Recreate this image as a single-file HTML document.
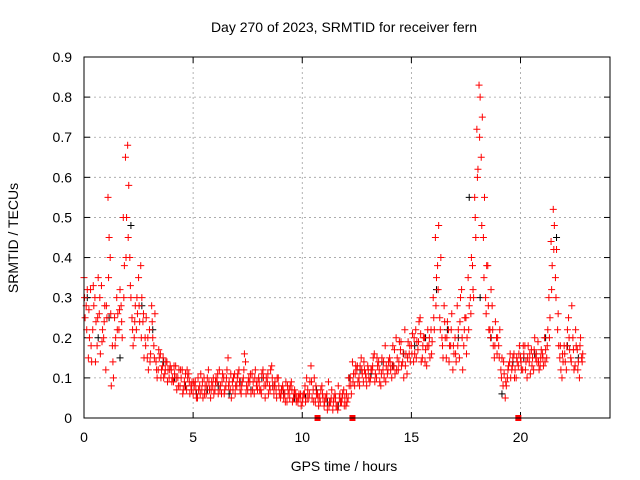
<!DOCTYPE html>
<html><head><meta charset="utf-8"><style>
body{margin:0;background:#fff;}
svg{display:block;font-family:"Liberation Sans",sans-serif;}
</style></head><body>
<svg id="chart" width="640" height="480" viewBox="0 0 640 480">
<rect width="640" height="480" fill="#fff"/>
<text x="344" y="32" font-size="14" text-anchor="middle">Day 270 of 2023, SRMTID for receiver fern</text>
<g id="grid"></g>
<g id="ticks"></g>
<g id="black"></g>
<g id="red"></g>
<rect x="84" y="57" width="526" height="361" fill="none" stroke="#000" stroke-width="1"/>
<text x="344" y="471" font-size="14" text-anchor="middle">GPS time / hours</text>
<text transform="translate(18,238) rotate(-90)" font-size="14" text-anchor="middle">SRMTID / TECUs</text>
</svg>
<script>
const xTicks=[0,5,10,15,20];
const yTicks=[0,0.1,0.2,0.3,0.4,0.5,0.6,0.7,0.8,0.9];
const red1=[.35,.28,.15,.32,.22,.30,.18,.26,.33,.20,
.12,.55,.40,.18,.25,.30,.22,.28,.50,.65,
.68,.40,.25,.20,.22,.35,.38,.24,.20,.15,
.22,.28,.18,.14,.12,.16,.13,.11,.14,.10,
.12,.09,.13,.10,.08,.12,.09,.07,.11,.08,
.06,.09,.05,.08,.07,.10,.06,.12,.05,.08,
.07,.09,.12,.06,.10,.08,.15,.07,.09,.11,
.08,.12,.06,.10,.14,.07,.09,.11,.06,.08,
.10,.07,.12,.05,.09,.08,.13,.06,.07,.10,
.05,.08,.06,.04,.07,.09,.05,.06,.04,.05,
.04,.06,.10,.05,.13,.07,.04,.06,.05,.08,
.03,.05,.09,.04,.02,.06,.03,.05,.04,.07,
.03,.05,.10,.14,.08,.12,.10,.15,.09,.11,
.13,.09,.12,.16,.10,.14,.08,.12,.18,.11,
.15,.10,.13,.20,.12,.17,.14,.22,.11,.16,
.18,.14,.22,.17,.25,.15,.20,.13,.18,.22,
.30,.45,.38,.25,.20,.28,.15,.22,.18,.12,
.20,.28,.15,.32,.18,.25,.35,.30,.38,.55,
.72,.83,.65,.45,.30,.38,.22,.28,.15,.20,
.18,.12,.08,.05,.10,.14,.12,.16,.10,.13,
.15,.12,.18,.10,.14,.17,.12,.15,.19,.13,
.16,.20,.15,.30,.44,.52,.35,.22,.15,.10,
.18,.12,.25,.15,.20,.13,.17,.10,.15];
const red2=[.25,.32,.20,.14,.28,.24,.35,.16,.22,.28,
.25,.45,.08,.10,.20,.26,.32,.20,.38,.50,
.58,.30,.18,.28,.26,.24,.30,.15,.25,.12,
.16,.20,.26,.10,.15,.12,.10,.14,.12,.13,
.10,.11,.07,.12,.10,.07,.11,.10,.06,.09,
.08,.05,.07,.11,.05,.08,.10,.07,.09,.06,
.10,.06,.08,.11,.07,.12,.09,.05,.10,.08,
.11,.07,.09,.16,.08,.10,.06,.09,.12,.07,
.07,.11,.08,.10,.06,.12,.08,.09,.10,.06,
.07,.05,.09,.06,.08,.04,.07,.05,.06,.03,
.06,.04,.07,.09,.05,.10,.06,.03,.07,.05,
.05,.02,.04,.07,.05,.03,.08,.04,.06,.05,
.04,.08,.06,.11,.13,.09,.13,.11,.12,.08,
.10,.12,.15,.11,.13,.09,.15,.10,.13,.14,
.12,.18,.11,.15,.19,.13,.10,.16,.19,.14,
.21,.16,.19,.24,.14,.20,.17,.22,.15,.19,
.22,.35,.48,.40,.15,.20,.24,.18,.26,.16,
.14,.22,.30,.12,.25,.20,.28,.40,.30,.45,
.62,.80,.75,.55,.38,.22,.32,.18,.24,.20,
.22,.15,.11,.08,.13,.10,.15,.12,.14,.18,
.12,.16,.14,.18,.11,.15,.20,.14,.12,.17,
.13,.17,.22,.25,.38,.48,.42,.18,.12,.14,
.14,.22,.17,.28,.12,.18,.14,.20,.16];
const red3=[.30,.22,.27,.18,.33,.14,.25,.30,.19,.24,
.28,.35,.26,.14,.18,.22,.27,.24,.30,.40,
.45,.33,.22,.24,.30,.28,.20,.26,.18,.20,
.14,.24,.15,.12,.17,.10,.15,.12,.09,.12,
.09,.13,.10,.08,.12,.06,.08,.12,.09,.07,
.09,.07,.10,.06,.09,.06,.08,.09,.07,.10,
.09,.11,.07,.09,.06,.10,.08,.11,.07,.06,
.10,.09,.08,.12,.06,.09,.11,.07,.10,.09,
.09,.06,.10,.08,.11,.07,.10,.08,.05,.08,
.06,.07,.04,.08,.05,.07,.06,.04,.05,.06,
.05,.08,.05,.06,.09,.04,.08,.05,.04,.06,
.04,.06,.03,.05,.04,.05,.02,.06,.05,.03,
.06,.10,.08,.09,.11,.13,.08,.12,.14,.10,
.12,.10,.13,.09,.15,.12,.11,.14,.09,.12,
.14,.13,.17,.12,.14,.19,.16,.13,.15,.18,
.16,.20,.15,.19,.21,.18,.14,.18,.20,.16,
.25,.28,.32,.22,.18,.24,.20,.14,.22,.18,
.16,.18,.24,.20,.22,.16,.22,.26,.32,.50,
.60,.70,.48,.35,.26,.28,.20,.22,.18,.16,
.15,.10,.14,.09,.12,.16,.13,.10,.15,.16,
.14,.18,.12,.15,.16,.13,.17,.16,.14,.15,
.15,.14,.18,.20,.32,.42,.30,.26,.18,.16,
.16,.18,.20,.14,.17,.22,.12,.18,.14];
const black=[.30,.20,.25,.15,.48,.28,.22,.14,.10,.08,.06,.07,.08,.06,.09,.07,.10,.08,.06,.05,.05,.07,.04,.03,.10,.12,.11,.14,.13,.16,.18,.20,.32,.22,.20,.55,.30,.20,.06,.14,.15,.16,.20,.45,.18,.15];
const zeroTimes=[10.7,12.3,19.9];
const NS="http://www.w3.org/2000/svg";
const X=t=>84+t*(526/24.1);
const Y=v=>418-v*(361/0.9);
function mk(tag,parent,attrs){const e=document.createElementNS(NS,tag);for(const k in attrs)e.setAttribute(k,attrs[k]);parent.appendChild(e);return e;}
const grid=document.getElementById('grid'),ticks=document.getElementById('ticks');
yTicks.forEach(v=>{
 const y=Y(v);
 if(v>0&&v<0.9){const g=mk('line',grid,{x1:84,x2:610,y1:y,y2:y,stroke:'#a0a0a0','stroke-dasharray':'2,3','stroke-width':0.8});
 
 }
 const t=mk('text',ticks,{x:72,y:y+5,'font-size':14,'text-anchor':'end'});t.textContent=String(v);
 
 
 mk('line',ticks,{x1:84,x2:90,y1:y,y2:y,stroke:'#000'});mk('line',ticks,{x1:604,x2:610,y1:y,y2:y,stroke:'#000'});
});
xTicks.forEach(v=>{
 const x=X(v);
 if(v>0){const g=mk('line',grid,{x1:x,x2:x,y1:57,y2:418,stroke:'#a0a0a0','stroke-dasharray':'2,3','stroke-width':0.8});
 
 }
 const t=mk('text',ticks,{x:x,y:442,'font-size':14,'text-anchor':'middle'});t.textContent=String(v);
 
 
 mk('line',ticks,{x1:x,x2:x,y1:418,y2:412,stroke:'#000'});mk('line',ticks,{x1:x,x2:x,y1:57,y2:63,stroke:'#000'});
});
function plus(parent,x,y,color,name){
 const p=mk('path',parent,{d:`M${x-3.5},${y}h7M${x},${y-3.5}v7`,stroke:color,'stroke-width':1,fill:'none'});
 
 
}
const bg=document.getElementById('black'),rg=document.getElementById('red');
black.forEach((v,i)=>plus(bg,X(i*0.5+0.15),Y(v),'#000','black-point'));
red1.forEach((v,i)=>plus(rg,X(i*0.1),Y(v),'#ff0000','red-point'));
red2.forEach((v,i)=>plus(rg,X(i*0.1+0.05),Y(v),'#ff0000','red-point'));
red3.forEach((v,i)=>plus(rg,X(i*0.1+0.025),Y(v),'#ff0000','red-point'));
zeroTimes.forEach(t=>{const r=mk('rect',rg,{x:X(t)-3,y:415,width:6,height:6,fill:'#ff0000'});
 
 });
</script>
</body></html>
